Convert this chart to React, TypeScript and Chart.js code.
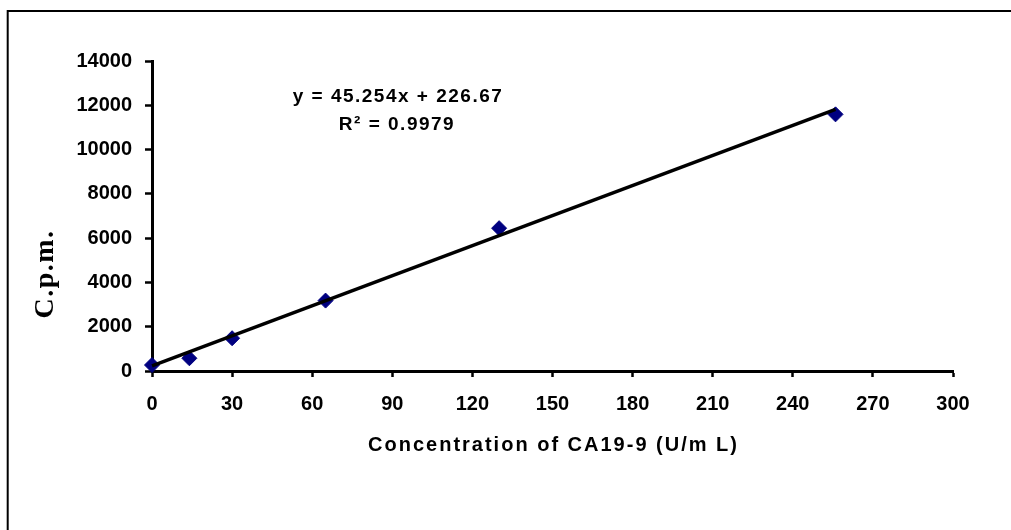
import React, { useEffect, useRef } from "react";
import { Chart, registerables } from "chart.js";

Chart.register(...registerables);

// ---- data ----
const concentrations = [0, 14, 30, 65, 130, 256];
const cpm = [270, 575, 1480, 3180, 6450, 11590];
const xTickValues = [0, 30, 60, 90, 120, 150, 180, 210, 240, 270, 300];
const yTickValues = [0, 2000, 4000, 6000, 8000, 10000, 12000, 14000];
const trendSlope = 45.254;
const trendIntercept = 226.67;
const rSquared = 0.9979;
const xAxisTitle = "Concentration of CA19-9 (U/m L)";
const yAxisTitle = "C.p.m.";
const equationText = `y = ${trendSlope}x + ${trendIntercept}`;
const r2Text = `R² = ${rSquared}`;

const SANS = '"Liberation Sans", Arial, sans-serif';
const SERIF = '"Liberation Serif", "Times New Roman", serif';

const decorPlugin = {
  id: "decor",
  beforeDraw(chart: any) {
    const ctx = chart.ctx as CanvasRenderingContext2D;
    ctx.save();
    ctx.fillStyle = "#ffffff";
    ctx.fillRect(0, 0, chart.width, chart.height);
    ctx.strokeStyle = "#000";
    ctx.lineWidth = 2;
    ctx.beginPath();
    ctx.moveTo(7.7, chart.height);
    ctx.lineTo(7.7, 11);
    ctx.lineTo(chart.width, 11);
    ctx.stroke();
    ctx.restore();
  },
  afterDraw(chart: any) {
    const ctx = chart.ctx as any;
    const { left, right } = chart.chartArea;
    ctx.save();
    ctx.fillStyle = "#000";
    ctx.textAlign = "center";
    ctx.textBaseline = "middle";
    // x axis title
    ctx.font = `bold 20px ${SANS}`;
    ctx.letterSpacing = "2px";
    ctx.fillText(xAxisTitle, (left + right) / 2 + 1, 445);
    // equation
    ctx.font = `bold 19px ${SANS}`;
    ctx.letterSpacing = "1.5px";
    ctx.fillText(equationText, 398, 97);
    ctx.fillText(r2Text, 397, 125);
    // y axis title
    ctx.font = `bold 28px ${SERIF}`;
    ctx.letterSpacing = "1.5px";
    ctx.translate(46, 274);
    ctx.rotate(-Math.PI / 2);
    ctx.fillText(yAxisTitle, 0, 0);
    ctx.restore();
  },
};

export default function App() {
  const ref = useRef<HTMLCanvasElement | null>(null);

  useEffect(() => {
    if (!ref.current) return;
    const first = concentrations[0];
    const last = concentrations[concentrations.length - 1];
    const tickFont = { family: SANS, size: 20, weight: "bold" as const };
    const chart = new Chart(ref.current, {
      type: "scatter",
      data: {
        datasets: [
          {
            label: "Trend",
            data: [
              { x: first, y: trendIntercept + trendSlope * first },
              { x: last, y: trendIntercept + trendSlope * last },
            ],
            showLine: true,
            borderColor: "#000",
            borderWidth: 3.5,
            pointRadius: 0,
            clip: false as any,
            order: 0,
          } as any,
          {
            label: "CA19-9",
            data: concentrations.map((x, i) => ({ x, y: cpm[i] })),
            pointStyle: "rectRot",
            pointRadius: 7.5,
            backgroundColor: "#000080",
            borderColor: "#000080",
            borderWidth: 1,
            clip: false as any,
            order: 1,
          } as any,
        ],
      },
      options: {
        responsive: false,
        animation: false,
        events: [],
        layout: { padding: { left: 0, right: 58, top: 61, bottom: 0 } },
        plugins: { legend: { display: false }, tooltip: { enabled: false } },
        scales: {
          x: {
            type: "linear",
            min: xTickValues[0],
            max: xTickValues[xTickValues.length - 1],
            afterBuildTicks: (s: any) => {
              s.ticks = xTickValues.map((v) => ({ value: v }));
            },
            afterFit: (s: any) => {
              s.height = 159;
            },
            grid: {
              display: true,
              drawOnChartArea: false,
              drawTicks: true,
              tickLength: 6,
              tickColor: "#000",
              tickWidth: 2.5,
            },
            border: { display: true, color: "#000", width: 3 },
            ticks: {
              color: "#000",
              font: tickFont,
              padding: 15,
              maxRotation: 0,
              autoSkip: false,
              callback: (v: any) => String(v),
            },
          },
          y: {
            type: "linear",
            min: yTickValues[0],
            max: yTickValues[yTickValues.length - 1],
            afterBuildTicks: (s: any) => {
              s.ticks = yTickValues.map((v) => ({ value: v }));
            },
            afterFit: (s: any) => {
              s.width = 152;
            },
            grid: {
              display: true,
              drawOnChartArea: false,
              drawTicks: true,
              tickLength: 7,
              tickColor: "#000",
              tickWidth: 2.5,
            },
            border: { display: true, color: "#000", width: 3 },
            ticks: {
              color: "#000",
              font: tickFont,
              padding: 13,
              autoSkip: false,
              callback: (v: any) => String(v),
            },
          },
        },
      },
      plugins: [decorPlugin],
    });
    return () => chart.destroy();
  }, []);

  return (
    <div style={{ position: "absolute", left: 0, top: 0, width: 1011, height: 530 }}>
      <canvas ref={ref} width={1011} height={530} style={{ display: "block" }} />
    </div>
  );
}
